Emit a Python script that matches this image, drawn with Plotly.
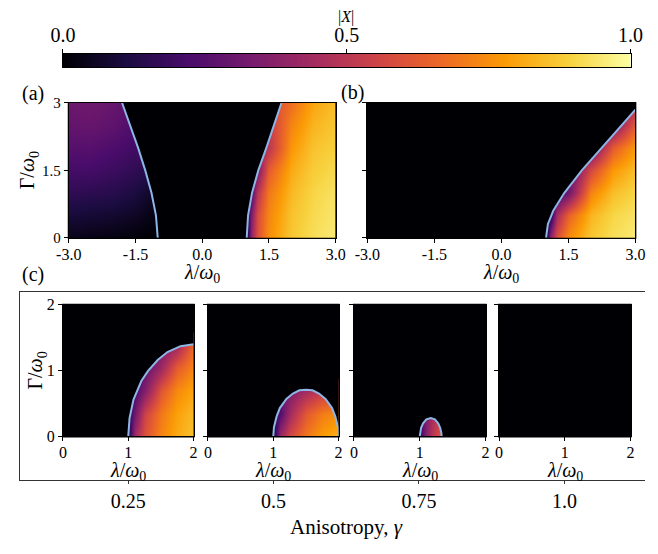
import plotly.graph_objects as go

W, H = 658, 554
FONT = "Liberation Serif, Times New Roman, serif"
BG = "#000004"
BND = "#8cb6e6"

# ---------------- data ----------------
# colour bar
cbar_levels = [0.0, 1.0]
cbar_tickvals = [0.0, 0.5, 1.0]
cbar_ticktext = ["0.0", "0.5", "1.0"]

# panels (a), (b) ticks
ab_xticks = [-3.0, -1.5, 0.0, 1.5, 3.0]
ab_xticktext = ["-3.0", "-1.5", "0.0", "1.5", "3.0"]
ab_yticks = [0.0, 1.5, 3.0]
ab_yticktext = ["0", "1.5", "3"]

# panel (a) – |X| read on a coarse grid
a_gam = [0.0, 0.5, 1.0, 1.5, 2.0, 2.5, 3.0]
a_right_lam = [1.0, 1.1, 1.25, 1.5, 2.0, 2.5, 3.0]
a_right_X = [
    [0.05, 0.42, 0.60, 0.75, 0.87, 0.92, 0.95],
    [0.10, 0.36, 0.58, 0.73, 0.86, 0.91, 0.94],
    [0.20, 0.24, 0.50, 0.70, 0.84, 0.90, 0.93],
    [0.30, 0.30, 0.34, 0.63, 0.81, 0.88, 0.91],
    [0.42, 0.42, 0.42, 0.50, 0.77, 0.86, 0.89],
    [0.50, 0.50, 0.50, 0.52, 0.73, 0.83, 0.87],
    [0.56, 0.56, 0.56, 0.56, 0.68, 0.80, 0.85],
]
a_left_lam = [-3.0, -2.5, -2.0, -1.5, -1.25, -1.0]
a_left_X = [
    [0.04, 0.03, 0.02, 0.01, 0.00, 0.00],
    [0.10, 0.09, 0.08, 0.06, 0.04, 0.02],
    [0.16, 0.15, 0.14, 0.11, 0.08, 0.06],
    [0.21, 0.21, 0.19, 0.16, 0.14, 0.14],
    [0.25, 0.25, 0.23, 0.20, 0.20, 0.20],
    [0.28, 0.29, 0.27, 0.23, 0.23, 0.23],
    [0.30, 0.31, 0.29, 0.26, 0.26, 0.26],
]
a_bnd_gam = [0.0, 0.5, 1.0, 1.5, 2.0, 2.5, 3.0]
a_bnd_right_lam = [1.0, 1.03, 1.12, 1.26, 1.44, 1.61, 1.78]
a_bnd_left_lam = [-1.0, -1.04, -1.14, -1.28, -1.44, -1.62, -1.80]

# panel (b)
b_gam = [0.0, 0.5, 1.0, 1.5, 2.0, 2.5, 3.0]
b_lam = [1.0, 1.1, 1.25, 1.5, 2.0, 2.5, 3.0]
b_X = [
    [0.05, 0.42, 0.60, 0.75, 0.87, 0.92, 0.95],
    [0.10, 0.15, 0.45, 0.65, 0.83, 0.90, 0.93],
    [0.20, 0.20, 0.20, 0.32, 0.73, 0.85, 0.90],
    [0.25, 0.25, 0.25, 0.25, 0.57, 0.77, 0.85],
    [0.28, 0.28, 0.28, 0.28, 0.30, 0.63, 0.78],
    [0.30, 0.30, 0.30, 0.30, 0.30, 0.34, 0.63],
    [0.32, 0.32, 0.32, 0.32, 0.32, 0.32, 0.45],
]
b_bnd_gam = [0.0, 0.3, 0.6, 1.0, 1.5, 2.0, 2.5, 2.85]
b_bnd_lam = [1.0, 1.04, 1.16, 1.41, 1.80, 2.24, 2.69, 3.0]

# panel (c)
c_ticks = [0, 1, 2]
gamma_vals = [0.25, 0.5, 0.75, 1.0]
gamma_text = ["0.25", "0.5", "0.75", "1.0"]

c1_lam = [1.0, 1.1, 1.25, 1.5, 1.75, 2.0]
c1_gam = [0.0, 0.35, 0.7, 1.05, 1.4]
c1_X = [
    [0.08, 0.44, 0.60, 0.73, 0.81, 0.86],
    [0.15, 0.32, 0.55, 0.70, 0.79, 0.84],
    [0.22, 0.22, 0.36, 0.61, 0.74, 0.80],
    [0.28, 0.28, 0.28, 0.42, 0.63, 0.73],
    [0.32, 0.32, 0.32, 0.32, 0.42, 0.67],
]
c1_bnd_lam = [1.0, 1.02, 1.08, 1.2, 1.3, 1.45, 1.6, 1.8, 2.0]
c1_bnd_gam = [0.0, 0.28, 0.56, 0.84, 0.99, 1.16, 1.28, 1.37, 1.40]

c2_lam = [1.0, 1.1, 1.25, 1.5, 1.75, 2.0]
c2_gam = [0.0, 0.35, 0.7]
c2_X = [
    [0.08, 0.42, 0.57, 0.70, 0.78, 0.83],
    [0.15, 0.24, 0.44, 0.62, 0.71, 0.75],
    [0.30, 0.30, 0.35, 0.44, 0.52, 0.56],
]
c2_bnd_lam = [1.0, 1.01, 1.05, 1.1, 1.2, 1.3, 1.4, 1.5, 1.6, 1.7, 1.8, 1.9, 1.95, 1.99, 2.0]
c2_bnd_gam = [0.0, 0.14, 0.30, 0.43, 0.57, 0.65, 0.70, 0.71, 0.70, 0.65, 0.57, 0.43, 0.30, 0.14, 0.0]

c3_lam = [1.0, 1.1, 1.2, 1.333]
c3_gam = [0.0, 0.28]
c3_X = [
    [0.15, 0.38, 0.50, 0.62],
    [0.22, 0.36, 0.46, 0.56],
]
c3_bnd_lam = [1.0, 1.005, 1.02, 1.05, 1.1, 1.167, 1.23, 1.28, 1.31, 1.327, 1.333]
c3_bnd_gam = [0.0, 0.06, 0.13, 0.20, 0.26, 0.28, 0.26, 0.20, 0.13, 0.06, 0.0]


# ---------------- helpers ----------------
def fx(p):
    return p / W


def fy(p):
    return 1 - p / H


def hm(x, y, z, xa, ya):
    return go.Heatmap(x=x, y=y, z=z, xaxis=xa, yaxis=ya, colorscale="Inferno",
                      zmin=0, zmax=1, zsmooth="best", showscale=False, hoverinfo="skip")


def mask(xs, ys, xa, ya):
    return go.Scatter(x=xs, y=ys, xaxis=xa, yaxis=ya, mode="lines", fill="toself",
                      fillcolor=BG, line=dict(width=0, color=BG), showlegend=False,
                      hoverinfo="skip")


def bline(xs, ys, xa, ya):
    return go.Scatter(x=xs, y=ys, xaxis=xa, yaxis=ya, mode="lines",
                      line=dict(width=2, color=BND), showlegend=False, hoverinfo="skip")


def empty(xa, ya):
    return go.Scatter(x=[], y=[], xaxis=xa, yaxis=ya, mode="lines", showlegend=False,
                      hoverinfo="skip")


fig = go.Figure()

# colour bar (as its own axes)
fig.add_trace(go.Heatmap(x=cbar_levels, y=[0, 1], z=[cbar_levels, cbar_levels],
                         xaxis="x8", yaxis="y8", colorscale="Inferno", zmin=0, zmax=1,
                         zsmooth="best", showscale=False, hoverinfo="skip"))

# panel (a)
fig.add_trace(hm(a_right_lam, a_gam, a_right_X, "x", "y"))
fig.add_trace(hm(a_left_lam, a_gam, a_left_X, "x", "y"))
fig.add_trace(mask([0.5, a_bnd_right_lam[0]] + a_bnd_right_lam + [a_bnd_right_lam[-1], 0.5],
                   [-0.3, -0.3] + a_bnd_gam + [3.4, 3.4], "x", "y"))
fig.add_trace(mask([-0.5, a_bnd_left_lam[0]] + a_bnd_left_lam + [a_bnd_left_lam[-1], -0.5],
                   [-0.3, -0.3] + a_bnd_gam + [3.4, 3.4], "x", "y"))
fig.add_trace(bline(a_bnd_right_lam, a_bnd_gam, "x", "y"))
fig.add_trace(bline(a_bnd_left_lam, a_bnd_gam, "x", "y"))

# panel (b)
fig.add_trace(hm(b_lam, b_gam, b_X, "x2", "y2"))
fig.add_trace(mask([0.5, b_bnd_lam[0]] + b_bnd_lam + [3.4, 3.4, 0.5],
                   [-0.3, -0.3] + b_bnd_gam + [b_bnd_gam[-1], 3.4, 3.4], "x2", "y2"))
fig.add_trace(bline(b_bnd_lam, b_bnd_gam, "x2", "y2"))

# panel (c)
fig.add_trace(hm(c1_lam, c1_gam, c1_X, "x3", "y3"))
fig.add_trace(mask([0.8, c1_bnd_lam[0]] + c1_bnd_lam + [2.4, 2.4, 0.8],
                   [-0.4, -0.4] + c1_bnd_gam + [c1_bnd_gam[-1], 2.2, 2.2], "x3", "y3"))
fig.add_trace(bline(c1_bnd_lam, c1_bnd_gam, "x3", "y3"))

fig.add_trace(hm(c2_lam, c2_gam, c2_X, "x4", "y4"))
fig.add_trace(mask([0.8, c2_bnd_lam[0]] + c2_bnd_lam + [c2_bnd_lam[-1], 2.4, 2.4, 0.8],
                   [-0.4, -0.4] + c2_bnd_gam + [-0.4, -0.4, 2.2, 2.2], "x4", "y4"))
fig.add_trace(bline(c2_bnd_lam, c2_bnd_gam, "x4", "y4"))

fig.add_trace(hm(c3_lam, c3_gam, c3_X, "x5", "y5"))
fig.add_trace(mask([0.8, c3_bnd_lam[0]] + c3_bnd_lam + [c3_bnd_lam[-1], 1.6, 1.6, 0.8],
                   [-0.4, -0.4] + c3_bnd_gam + [-0.4, -0.4, 0.8, 0.8], "x5", "y5"))
fig.add_trace(bline(c3_bnd_lam, c3_bnd_gam, "x5", "y5"))

# gamma = 1.0 panel (no ordered region) and outer box
fig.add_trace(empty("x6", "y6"))
fig.add_trace(empty("x7", "y7"))


# ---------------- axes ----------------
def axis(domain, anchor, rng, tickvals=None, ticktext=None, labels=True, size=15, **kw):
    d = dict(domain=domain, anchor=anchor, range=rng, showline=True, mirror=True,
             linecolor="black", linewidth=1, ticks="outside", ticklen=4, tickwidth=1,
             tickcolor="black", showgrid=False, zeroline=False, fixedrange=True,
             showticklabels=labels,
             tickfont=dict(family=FONT, size=size, color="black"))
    if tickvals is not None:
        d["tickvals"] = tickvals
        d["ticktext"] = ticktext if ticktext is not None else [str(v) for v in tickvals]
    d.update(kw)
    return d


AB_T, AB_B = 98, 237
C_T, C_B = 306, 442
ab_x = [(58, 336), (369, 648)]
c_x = [(52, 188), (203, 339), (355, 492), (506, 643)]
ab_y = [fy(AB_B), fy(AB_T)]
c_y = [fy(C_B), fy(C_T)]

layout_axes = {
    "xaxis": axis([fx(58), fx(336)], "y", [-3, 3], ab_xticks, ab_xticktext, size=16,
                  ticklabelstandoff=-2),
    "yaxis": axis(ab_y, "x", [0, 3], ab_yticks, ab_yticktext),
    "xaxis2": axis([fx(369), fx(648)], "y2", [-3, 3], ab_xticks, ab_xticktext, size=16,
                   ticklabelstandoff=-2),
    "yaxis2": axis(ab_y, "x2", [0, 3], ab_yticks, ab_yticktext, labels=False),
}
for i, (l, r) in enumerate(c_x):
    n = i + 3
    layout_axes[f"xaxis{n}"] = axis([fx(l), fx(r)], f"y{n}", [0, 2], c_ticks, size=16,
                                    ticklabelstandoff=-3)
    layout_axes[f"yaxis{n}"] = axis(c_y, f"x{n}", [0, 2], c_ticks, labels=(i == 0), size=16)

# outer box of panel (c) with anisotropy axis
layout_axes["xaxis7"] = dict(domain=[fx(7), 1.0], anchor="y7", range=[0.0636, 1.1386],
                             showline=True, mirror=True, linecolor="#333", linewidth=1,
                             ticks="outside", ticklen=3, tickcolor="#333",
                             tickvals=gamma_vals, ticktext=gamma_text, showgrid=False,
                             zeroline=False, fixedrange=True,
                             tickfont=dict(family=FONT, size=20, color="black"))
layout_axes["yaxis7"] = dict(domain=[fy(487), fy(293)], anchor="x7", range=[0, 1],
                             showline=True, mirror=False, linecolor="#333", linewidth=1,
                             ticks="", showticklabels=False, showgrid=False, zeroline=False,
                             fixedrange=True)
# colour bar axes
layout_axes["xaxis8"] = dict(domain=[fx(52), fx(643)], anchor="y8", range=[0, 1], side="top",
                             showline=True, mirror=True, linecolor="black", linewidth=1,
                             ticks="outside", ticklen=4, tickcolor="black",
                             tickvals=cbar_tickvals, ticktext=cbar_ticktext,
                             showgrid=False, zeroline=False, fixedrange=True,
                             ticklabelstandoff=-1,
                             tickfont=dict(family=FONT, size=20, color="black"))
layout_axes["yaxis8"] = dict(domain=[fy(61), fy(47)], anchor="x8", range=[0, 1],
                             showline=True, mirror=True, linecolor="black", linewidth=1,
                             ticks="", showticklabels=False, showgrid=False, zeroline=False,
                             fixedrange=True)

# black backgrounds of the map panels (slightly oversized, hidden under the frames)
shapes = []
for (l, r) in ab_x:
    shapes.append(dict(type="rect", xref="paper", yref="paper",
                       x0=fx(l - 1), x1=fx(r + 1), y0=fy(AB_B + 1), y1=fy(AB_T - 1),
                       fillcolor=BG, line=dict(width=0), layer="below"))
for (l, r) in c_x:
    shapes.append(dict(type="rect", xref="paper", yref="paper",
                       x0=fx(l - 1), x1=fx(r + 1), y0=fy(C_B + 1), y1=fy(C_T - 1),
                       fillcolor=BG, line=dict(width=0), layer="below"))

LAM = "<i>λ</i>/<i>ω</i><sub>0</sub>"
GAM = "Γ/<i>ω</i><sub>0</sub>"


def ann(text, x, y, size=20, angle=0):
    return dict(text=text, x=fx(x), y=fy(y), xref="paper", yref="paper",
                xanchor="center", yanchor="middle", showarrow=False, textangle=angle,
                font=dict(family=FONT, size=size, color="black"))


annotations = [
    ann("|<i>X</i>|", 347, 9, size=16),
    ann("(a)", 21, 88),
    ann("(b)", 353, 87),
    ann("(c)", 21, 275),
    ann(LAM, 197, 274),
    ann(LAM, 508, 274),
    ann(GAM, 17, 167, angle=-90),
    ann(GAM, 25, 374, angle=-90),
    ann("Anisotropy, <i>γ</i>", 347, 535, size=21),
]
for (l, r) in c_x:
    annotations.append(ann(LAM, (l + r) / 2, 478))

fig.update_layout(
    width=W, height=H, margin=dict(l=0, r=0, t=0, b=0),
    paper_bgcolor="white", plot_bgcolor="rgba(0,0,0,0)",
    showlegend=False, shapes=shapes, annotations=annotations,
    font=dict(family=FONT, color="black"),
    **layout_axes,
)

fig.write_html("out.html")
